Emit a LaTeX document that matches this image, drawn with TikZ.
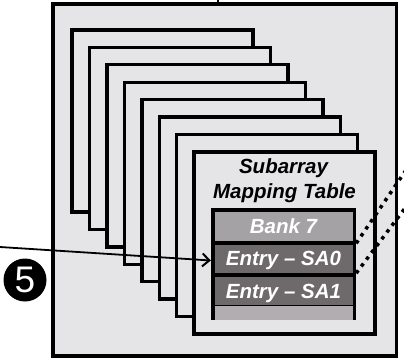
\documentclass[tikz,border=0pt]{standalone}
\usepackage{fontspec}
\newfontfamily\lab{Liberation Sans}
\usetikzlibrary{arrows.meta}
\definecolor{boxfill}{RGB}{229,228,230}
\definecolor{bankfill}{RGB}{164,162,164}
\definecolor{entryfill}{RGB}{110,106,108}
\definecolor{stripefill}{RGB}{176,174,176}
\tikzset{
  frame/.style={draw=black,line width=3.4pt,fill=boxfill},
  rowbox/.style={inner sep=0pt,minimum width=138pt,text=white,
    font=\lab\bfseries\itshape\fontsize{20.5}{24}\selectfont,
    text height=14.7pt,text depth=0pt},
  title/.style={inner sep=0pt,anchor=base,
    font=\lab\bfseries\itshape\fontsize{20.5}{24}\selectfont},
  dotline/.style={line width=3.5pt,dash pattern=on 3.5pt off 5pt},
}
\begin{document}
\begin{tikzpicture}[x=1pt,y=-1pt]
\useasboundingbox (0,0) rectangle (404,361);
% top tick
\draw[line width=2pt] (218,0) -- (218,4);
% outer box
\draw[frame,line width=3.2pt] (53,4) rectangle (396.5,356);
% stacked boxes
\foreach \i in {0,...,7}{
  \draw[frame] ({72+17.45*\i},{30+17.4*\i}) rectangle ++(181,182);
}
% titles
\node[title] (t1) at (283.5,173.3) {Subarray};
\node[title] (t2) at (284.5,198.3) {Mapping Table};
% table
\node[fill=black,inner sep=0pt,minimum width=145pt,minimum height=112pt] (tbl) at (283.5,264) {};
\node[rowbox,fill=bankfill,minimum height=29pt] (bank) at (283.5,226) {Bank 7};
\node[rowbox,fill=entryfill,minimum height=28pt] (sa0) at (283.5,258.5) {Entry – SA0};
\node[rowbox,fill=entryfill,minimum height=28.5pt] (sa1) at (283.5,290.75) {Entry – SA1};
\node[rowbox,fill=stripefill,minimum height=7pt] (stripe) at (283.5,313) {};
% dotted lines
\coordinate (d1) at (410,164.2);
\coordinate (d2) at (410,201.5);
\draw[dotline] (sa0.north east -| tbl.east) ++(0,-1) -- (d1);
\draw[dotline] (sa0.south east -| tbl.east) ++(0,0.5) -- (d2);
% arrow
\coordinate (src) at (0,247);
\draw[line width=1.8pt,-{Straight Barb[length=7pt,width=13pt,line width=2pt]}] (src) -- ([yshift=-2pt]sa0.west -| tbl.west);
% step number
\node[circle,fill=black,minimum size=43pt,inner sep=0pt,text=white,
  font=\lab\fontsize{37}{37}\selectfont] (n5) at (25,280) {5};
\end{tikzpicture}
\end{document}
